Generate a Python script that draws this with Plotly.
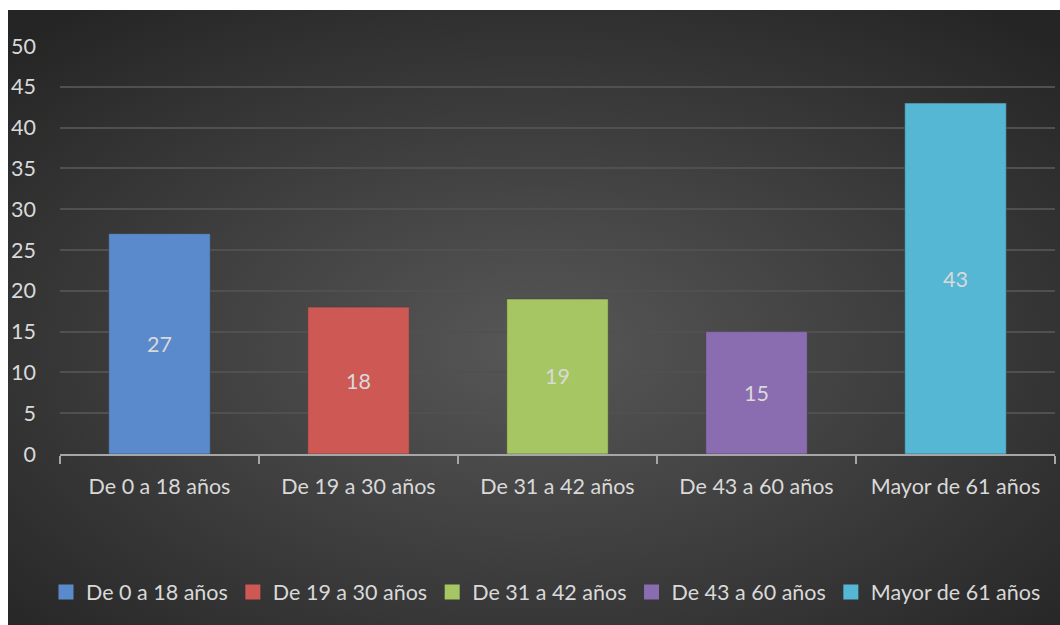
import base64
import plotly.graph_objects as go

categories = ["De 0 a 18 años", "De 19 a 30 años", "De 31 a 42 años", "De 43 a 60 años", "Mayor de 61 años"]
values = [27, 18, 19, 15, 43]
colors = ["#5a8acb", "#cd5854", "#a6c663", "#8a6cb1", "#55b7d4"]
y_ticks = [0, 5, 10, 15, 20, 25, 30, 35, 40, 45, 50]

FONT = "Lato"
TXT = "#d9d9d9"
FS = 21.5

fig = go.Figure()
for cat, val, col in zip(categories, values, colors):
    fig.add_trace(go.Bar(
        x=[cat], y=[val], name=cat, showlegend=False,
        marker=dict(color=col, line=dict(color="rgba(60,60,60,0.5)", width=1)),
        width=0.51,
        text=[str(val)], textposition="inside", insidetextanchor="middle",
        textfont=dict(family=FONT, size=FS, color=TXT),
        hoverinfo="x+y",
    ))
# legend entries with square swatches
for cat, col in zip(categories, colors):
    fig.add_trace(go.Scatter(
        x=[None], y=[None], mode="markers", name=cat,
        marker=dict(symbol="square", size=15, color=col),
        hoverinfo="skip",
    ))

svg = (
    '<svg xmlns="http://www.w3.org/2000/svg" width="1052" height="615" viewBox="0 0 1052 615" preserveAspectRatio="none">'
    '<defs><radialGradient id="g" cx="50%" cy="55%" r="70%">'
    '<stop offset="0" stop-color="#575757"/><stop offset="1" stop-color="#252525"/>'
    '</radialGradient></defs><rect width="1052" height="615" fill="url(#g)"/></svg>'
)
src = "data:image/svg+xml;base64," + base64.b64encode(svg.encode()).decode()

L, R, T, B = 60, 1055, 46, 454
W = R - L
H = B - T

fig.add_layout_image(dict(
    source=src, xref="paper", yref="paper",
    x=(8 - L) / W, y=(B - 10) / H,
    sizex=(1060 - 8) / W, sizey=(625 - 10) / H,
    xanchor="left", yanchor="top", sizing="stretch", layer="below",
))

fig.update_layout(
    width=1060, height=625,
    margin=dict(l=L, r=1060 - R, t=T, b=625 - B),
    paper_bgcolor="white", plot_bgcolor="rgba(0,0,0,0)",
    barmode="overlay",
    font=dict(family=FONT, color=TXT, size=FS),
    showlegend=True,
    legend=dict(
        orientation="h", x=(546 - L) / W, xanchor="center",
        y=(B - 592) / H, yanchor="middle",
        font=dict(family=FONT, size=FS, color=TXT),
        bgcolor="rgba(0,0,0,0)", itemwidth=30,
        traceorder="normal",
    ),
    xaxis=dict(
        showgrid=False, showline=True, linecolor="#a6a6a6", linewidth=1.5,
        ticks="outside", tickson="boundaries", ticklen=8, tickcolor="#a6a6a6",
        tickwidth=1.5, tickfont=dict(family=FONT, size=FS, color=TXT),
        ticklabelstandoff=12,
        categoryorder="array", categoryarray=categories,
    ),
    yaxis=dict(
        range=[0, 50], tickvals=y_ticks, showgrid=True, gridcolor="#505050", gridwidth=1.5,
        zeroline=False, showline=False, ticks="",
        tickfont=dict(family=FONT, size=FS, color=TXT), ticklabelstandoff=23,
    ),
)

fig.write_html("out.html")
